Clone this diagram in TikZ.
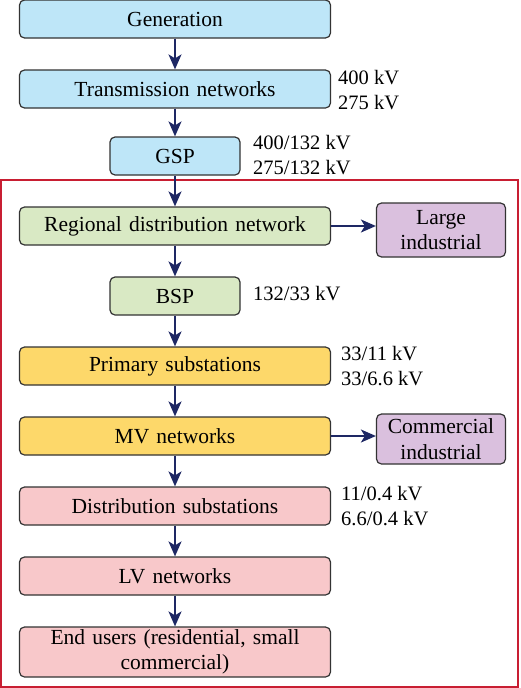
\documentclass[tikz,border=0pt]{standalone}
\usepackage{fontspec}
\setmainfont{Liberation Serif}
\usepackage{tikz}
\usetikzlibrary{arrows.meta}

\definecolor{genblue}{RGB}{190,230,248}
\definecolor{distgreen}{RGB}{217,233,196}
\definecolor{primyellow}{RGB}{253,216,106}
\definecolor{lvpink}{RGB}{248,200,202}
\definecolor{indpurple}{RGB}{218,192,222}
\definecolor{arrownavy}{RGB}{30,40,100}
\definecolor{framered}{RGB}{200,30,50}

\begin{document}
\begin{tikzpicture}[x=1pt,y=1pt,
  box/.style={draw=black!80,line width=1.2pt,rounded corners=5pt,minimum height=38pt,align=center,inner sep=2pt,font=\fontsize{21.5}{25.5}\selectfont},
  wide/.style={box,minimum width=311pt,text width=300pt},
  small/.style={box,minimum width=130pt},
  side/.style={box,minimum width=129pt,fill=indpurple},
  volt/.style={anchor=west,align=left,inner sep=0pt,font=\fontsize{20.5}{25}\selectfont},
  flow/.style={-{Stealth[length=15pt,width=13pt,inset=4pt]},draw=arrownavy,line width=1.8pt}]
\useasboundingbox (0,0) rectangle (520,-688);
\draw[framered,line width=2pt] (1,-180) rectangle (518,-687);

\node[wide,fill=genblue] (gen) at (175,-19) {Generation};
\node[wide,fill=genblue] (trans) at (175,-89) {Transmission networks};
\node[small,fill=genblue] (gsp) at (175,-156) {GSP};
\node[wide,fill=distgreen] (reg) at (175,-226) {Regional distribution network};
\node[side,minimum height=54pt] (large) at (441,-230) {Large\\industrial};
\node[small,fill=distgreen] (bsp) at (175,-296) {BSP};
\node[wide,fill=primyellow] (prim) at (175,-366) {Primary substations};
\node[wide,fill=primyellow] (mv) at (175,-436) {MV networks};
\node[side,minimum height=50pt] (comm) at (441,-439) {Commercial\\industrial};
\node[wide,fill=lvpink] (dist) at (175,-506) {Distribution substations};
\node[wide,fill=lvpink] (lv) at (175,-576) {LV networks};
\node[wide,fill=lvpink,minimum height=50pt] (end) at (175,-652) {End users (residential, small\\commercial)};

% voltage levels
\node[volt] (transv) at (338,-90) {400 kV\\275 kV};
\node[volt] (gspv) at (253,-155) {400/132 kV\\275/132 kV};
\node[volt] (bspv) at (253,-294) {132/33 kV};
\node[volt] (primv) at (341,-366) {33/11 kV\\33/6.6 kV};
\node[volt] (distv) at (341,-506) {11/0.4 kV\\6.6/0.4 kV};

\draw[flow] (gen) -- (trans);
\draw[flow] (trans) -- (gsp);
\draw[flow] (gsp) -- (reg);
\draw[flow] (reg) -- (bsp);
\draw[flow] (bsp) -- (prim);
\draw[flow] (prim) -- (mv);
\draw[flow] (mv) -- (dist);
\draw[flow] (dist) -- (lv);
\draw[flow] (lv) -- (end);
\draw[flow] (reg.east) -- (reg.east -| large.west);
\draw[flow] (mv.east) -- (mv.east -| comm.west);
\end{tikzpicture}
\end{document}
